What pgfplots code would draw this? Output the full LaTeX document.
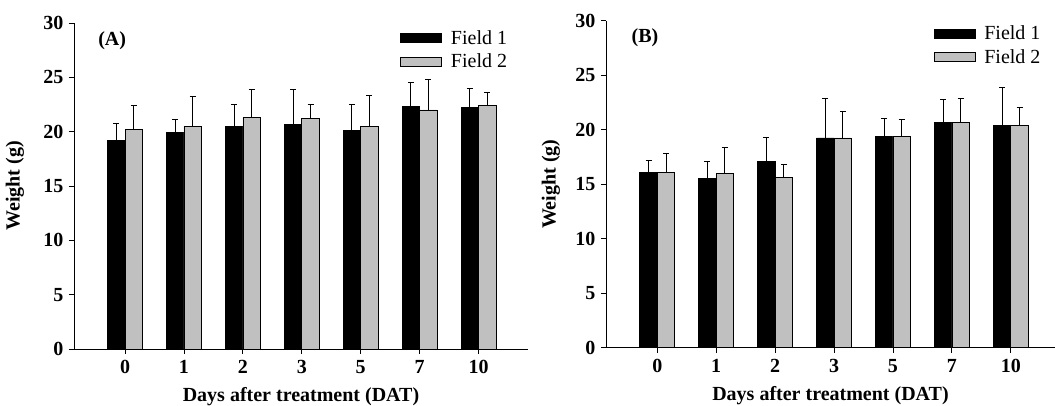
\documentclass[border=0pt]{standalone}
\usepackage{pgfplots}
\pgfplotsset{compat=1.18}
\usepackage{fontspec}
\setmainfont{Liberation Serif}
\definecolor{barg}{HTML}{C0C0C0}
\newcommand{\fs}{\fontsize{20}{23}\selectfont}
\pgfplotsset{
  panel/.style={
    scale only axis,
    ybar=0pt,
    bar width=17.5pt,
    ymin=0, ymax=30,
    ytick={0,5,...,30},
    xtick={0,1,2,3,4,5,6},
    xticklabels={0,1,2,3,5,7,10},
    axis x line*=bottom,
    axis y line*=left,
    tick align=outside,
    major tick length=5pt,
    tick style={black, line width=0.8pt},
    axis line style={black, line width=0.9pt},
    /pgf/number format/assume math mode=true,
    ticklabel style={font=\fs\bfseries},
    xticklabel style={yshift=-3pt},
    yticklabel style={xshift=-2pt},
    label style={font=\fs\bfseries},
    xlabel={Days after treatment (DAT)},
    ylabel={Weight (g)},
    legend image code/.code={\draw[#1,draw=black,line width=0.8pt] (0pt,-4.5pt) rectangle (41pt,4.5pt);},
    legend style={draw=none, fill=none, font=\fs, inner sep=0pt,
      nodes={inner sep=0pt}, /tikz/column sep=9pt, /tikz/row sep=8pt},
    legend cell align=left,
    error bars/y dir=plus,
    error bars/y explicit,
    error bars/error bar style={black, line width=0.9pt},
    error bars/error mark options={black, rotate=90, mark size=3pt, line width=0.9pt},
  },
  f1/.style={fill=black, draw=black, line width=0.7pt},
  f2/.style={fill=barg, draw=black, line width=0.7pt},
}
\pgfplotstableread{
x yA eA yB eB
0 19.2  1.55 20.2 2.2
1 19.9  1.2  20.5 2.7
2 20.45 2.05 21.3 2.55
3 20.65 3.2  21.2 1.3
4 20.1  2.4  20.5 2.8
5 22.3  2.2  22.0 2.8
6 22.2  1.8  22.4 1.2
}\tabA
\pgfplotstableread{
x yA eA yB eB
0 16.1  1.1  16.1  1.7
1 15.5  1.6  16.0  2.35
2 17.1  2.2  15.6  1.2
3 19.25 3.6  19.25 2.4
4 19.4  1.6  19.4  1.5
5 20.65 2.1  20.65 2.2
6 20.4  3.45 20.4  1.6
}\tabB
\begin{document}
\begin{tikzpicture}
\useasboundingbox (0,0) rectangle (1055pt,406pt);
\begin{axis}[panel,
  at={(74pt,57pt)}, anchor=south west,
  width=454pt, height=326pt,
  xmin=-0.866, xmax=6.84,
  xlabel style={at={(axis description cs:0.5,-0.147)}, anchor=center},
  ylabel style={at={(axis description cs:-0.13,0.5)}, anchor=center, rotate=0},
  legend style={at={(rel axis cs:0.718,0.978)}, anchor=north west},
]
\addplot[f1] table[x=x, y=yA, y error=eA] {\tabA};
\addplot[f2] table[x=x, y=yB, y error=eB] {\tabA};
\legend{Field 1, Field 2}
\node[font=\fs\bfseries] at (rel axis cs:0.084,0.947) {(A)};
\end{axis}
\begin{axis}[panel,
  at={(606pt,58.3pt)}, anchor=south west,
  width=449pt, height=327pt,
  xmin=-0.87, xmax=6.75,
  xlabel style={at={(axis description cs:0.5,-0.147)}, anchor=center},
  ylabel style={at={(axis description cs:-0.1225,0.5)}, anchor=center},
  legend style={at={(rel axis cs:0.729,0.985)}, anchor=north west},
]
\addplot[f1] table[x=x, y=yA, y error=eA] {\tabB};
\addplot[f2] table[x=x, y=yB, y error=eB] {\tabB};
\legend{Field 1, Field 2}
\node[font=\fs\bfseries] at (rel axis cs:0.087,0.947) {(B)};
\end{axis}
\end{tikzpicture}
\end{document}
